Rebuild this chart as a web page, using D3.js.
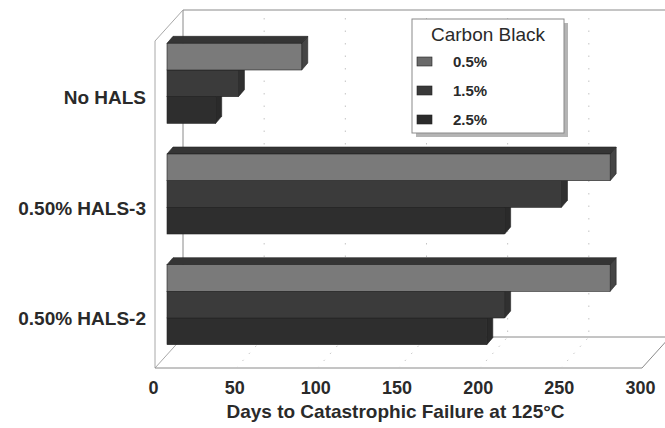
<!DOCTYPE html>
<html>
<head>
<meta charset="utf-8">
<script src="https://cdn.jsdelivr.net/npm/d3@7"></script>
<style>
  body { margin: 0; background: #fff; }
  svg text { font-family: "Liberation Sans", Arial, Helvetica, sans-serif; fill: #2a2a2a; }
  .frame { stroke: #8a8a8a; stroke-width: 1; fill: none; }
  .grid { stroke: #c4c4c4; stroke-width: 1; stroke-dasharray: 1.5, 11; fill: none; }
</style>
</head>
<body>
<svg id="chart" width="665" height="428"></svg>
<script>
// data
var categories = ["No HALS", "0.50% HALS-3", "0.50% HALS-2"];
var series = ["0.5%", "1.5%", "2.5%"];
var values05 = [83, 273, 273];
var values15 = [44, 243, 208];
var values25 = [30, 208, 197];
var xTicks = [0, 50, 100, 150, 200, 250, 300];
var legendTitle = "Carbon Black";
var xTitle = "Days to Catastrophic Failure at 125\u00B0C";

var seriesValues = [values05, values15, values25];
var faceColor = ["#7a7a7a", "#3b3b3b", "#2e2e2e"];
var topColor = ["#353535", "#2a2a2a", "#262626"];
var sideColor = ["#454545", "#303030", "#2a2a2a"];
var swatchColor = ["#6a6a6a", "#393939", "#2b2b2b"];

var svg = d3.select("#chart");

// front plane of the 3d box, plus the depth vector
var fLeft = 155, fRight = 642, fTop = 41, fBottom = 368;
var depthX = 28, depthY = -31;
// bars sit in the middle of the depth
var barOffX = 12, barOffY = -14;
var barDX = 6, barDY = -7;

var x = d3.scaleLinear().domain([0, 300]).range([fLeft, fRight]);
var y = d3.scaleBand().domain(categories).range([fTop + 1, fBottom + 6]);
var ySub = d3.scaleBand().domain(series)
  .range([(y.bandwidth() - 80) / 2, (y.bandwidth() + 80) / 2]);

// box frame: back wall, left wall, floor
var frame = svg.append("g");
frame.append("path").attr("class", "frame")
  .attr("d", "M" + (fRight + depthX) + "," + (fTop + depthY) +
    "L" + (fLeft + depthX) + "," + (fTop + depthY) +
    "L" + (fLeft + depthX) + "," + (fBottom + depthY) +
    "L" + (fRight + depthX) + "," + (fBottom + depthY));
frame.append("path").attr("class", "frame")
  .attr("d", "M" + (fLeft + depthX) + "," + (fTop + depthY) + "L" + fLeft + "," + fTop +
    "L" + fLeft + "," + fBottom + "L" + (fLeft + depthX) + "," + (fBottom + depthY))
  .style("stroke", "#a8a8a8");
frame.append("path").attr("class", "frame")
  .attr("d", "M" + fLeft + "," + fBottom + "L" + fRight + "," + fBottom +
    "L" + (fRight + depthX) + "," + (fBottom + depthY));

// dotted gridlines on back wall and floor
svg.append("g").selectAll("line.wall")
  .data(xTicks.slice(1)).enter()
  .append("line").attr("class", "grid")
  .attr("x1", function (d) { return x(d) + depthX; })
  .attr("x2", function (d) { return x(d) + depthX; })
  .attr("y1", fTop + depthY + 8)
  .attr("y2", fBottom + depthY);
svg.append("g").selectAll("line.floor")
  .data(xTicks.slice(1, -1)).enter()
  .append("line").attr("class", "grid")
  .style("stroke-dasharray", "1.5,8")
  .attr("x1", function (d) { return x(d); })
  .attr("y1", fBottom)
  .attr("x2", function (d) { return x(d) + depthX; })
  .attr("y2", fBottom + depthY);

// bars, drawn bottom series first so upper bars hide the tops below them
var bars = svg.append("g");
categories.forEach(function (cat, ci) {
  for (var si = series.length - 1; si >= 0; si--) {
    var v = seriesValues[si][ci];
    var x0 = x(0) + barOffX, x1 = x(v) + barOffX;
    var y0 = y(cat) + ySub(series[si]) + barOffY;
    var y1 = y0 + ySub.bandwidth();
    var g = bars.append("g");
    // side face
    g.append("path")
      .attr("d", "M" + x1 + "," + y0 + "L" + (x1 + barDX) + "," + (y0 + barDY) +
        "L" + (x1 + barDX) + "," + (y1 + barDY) + "L" + x1 + "," + y1 + "Z")
      .attr("fill", sideColor[si]).attr("stroke", "#222").attr("stroke-width", 0.6);
    // top face
    g.append("path")
      .attr("d", "M" + x0 + "," + y0 + "L" + (x0 + barDX) + "," + (y0 + barDY) +
        "L" + (x1 + barDX) + "," + (y0 + barDY) + "L" + x1 + "," + y0 + "Z")
      .attr("fill", topColor[si]).attr("stroke", "#222").attr("stroke-width", 0.6);
    // front face
    g.append("rect")
      .attr("x", x0).attr("y", y0)
      .attr("width", x1 - x0).attr("height", y1 - y0)
      .attr("fill", faceColor[si]).attr("stroke", "#222").attr("stroke-width", 0.6);
  }
});

// category labels
svg.append("g").selectAll("text")
  .data(categories).enter()
  .append("text")
  .attr("x", fLeft - 9)
  .attr("y", function (d) { return y(d) + y.bandwidth() / 2; })
  .attr("dy", "0.35em")
  .attr("text-anchor", "end")
  .style("font-size", "19px").style("font-weight", "bold")
  .text(function (d) { return d; });

// x axis, with the domain line drawn by the frame
var xAxis = d3.axisBottom(x).tickValues(xTicks).tickSize(0).tickPadding(13);
svg.append("g")
  .attr("transform", "translate(-2," + fBottom + ")")
  .call(xAxis)
  .call(function (g) { g.select(".domain").remove(); })
  .selectAll("text")
  .style("font-size", "18px").style("font-weight", "bold")
  .style("font-family", "'Liberation Sans', Arial, sans-serif").attr("fill", "#2a2a2a");

svg.append("text")
  .attr("x", (fLeft + fRight) / 2 - 3)
  .attr("y", 418)
  .attr("text-anchor", "middle")
  .style("font-size", "19px").style("font-weight", "bold")
  .text(xTitle);

// legend box with drop shadow
var legend = svg.append("g").attr("transform", "translate(412,19)");
legend.append("rect").attr("x", 4).attr("y", 4).attr("width", 152).attr("height", 114)
  .attr("fill", "#b4b4b4");
legend.append("rect").attr("x", 0).attr("y", 0).attr("width", 152).attr("height", 114)
  .attr("fill", "#fff").attr("stroke", "#8a8a8a");
legend.append("text")
  .attr("x", 76).attr("y", 22)
  .attr("text-anchor", "middle")
  .style("font-size", "19px")
  .text(legendTitle);
var item = legend.selectAll("g.item")
  .data(series).enter()
  .append("g").attr("class", "item")
  .attr("transform", function (d, i) { return "translate(0," + (43 + i * 29) + ")"; });
item.append("rect")
  .attr("x", 5).attr("y", -5).attr("width", 15).attr("height", 9)
  .attr("fill", function (d, i) { return swatchColor[i]; })
  .attr("stroke", "#222").attr("stroke-width", 0.6);
item.append("text")
  .attr("x", 41).attr("y", 0).attr("dy", "0.35em")
  .style("font-size", "15px").style("font-weight", "bold")
  .text(function (d) { return d; });
</script>
</body>
</html>
